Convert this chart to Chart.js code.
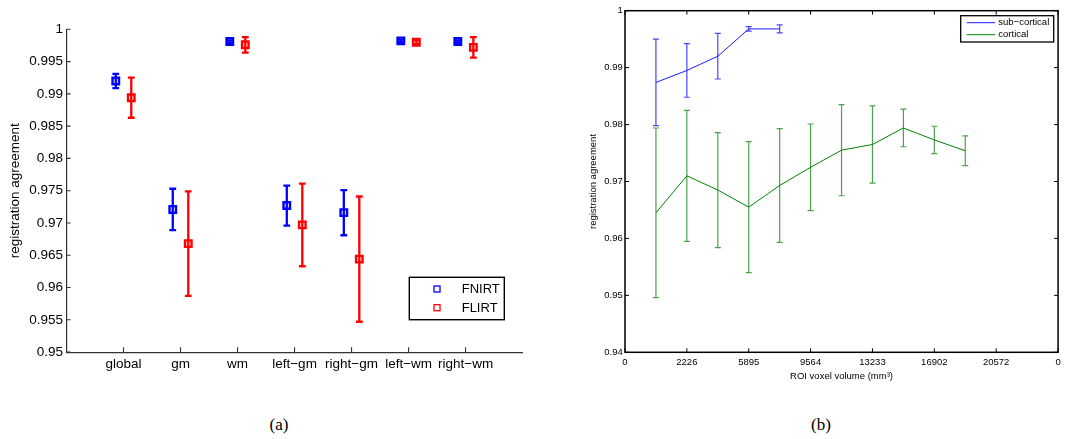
<!DOCTYPE html>
<html><head><meta charset="utf-8">
<script src="https://cdn.jsdelivr.net/npm/chart.js@4.4.0/dist/chart.umd.min.js"></script>
<style>
html,body{margin:0;padding:0;background:#fff;width:1065px;height:439px;overflow:hidden;}
#ca{position:absolute;left:0;top:0;}
#cb{position:absolute;left:540px;top:0;}
.cap{position:absolute;top:414px;font-family:'Liberation Serif','Times New Roman',serif;font-size:17px;width:60px;text-align:center;line-height:22px;color:#000;}
</style></head><body>
<canvas id="ca" width="540" height="400"></canvas>
<canvas id="cb" width="525" height="400"></canvas>
<div class="cap" style="left:249px">(a)</div>
<div class="cap" style="left:791px">(b)</div>
<script>
// ---------- Panel (a) data ----------
const categories = ['global', 'gm', 'wm', 'left\u2212gm', 'right\u2212gm', 'left\u2212wm', 'right\u2212wm'];
const fnirtMean = [0.9920, 0.9721, 0.9981, 0.9727, 0.9716, 0.9982, 0.9981];
const fnirtErr  = [0.0011, 0.0032, 0.0002, 0.0031, 0.0035, 0.0002, 0.0002];
const flirtMean = [0.9894, 0.9668, 0.9976, 0.9697, 0.9644, 0.9980, 0.9972];
const flirtErr  = [0.0031, 0.0081, 0.0012, 0.0064, 0.0097, 0.0003, 0.0016];

// ---------- Panel (b) data ----------
const volumeTickLabels = ['0', '2226', '5895', '9564', '13233', '16902', '20572', '0'];
const subBins  = [0.5, 1, 1.5, 2, 2.5];
const subMean  = [0.9874, 0.9895, 0.9920, 0.9968, 0.9968];
const subErr   = [0.0076, 0.0047, 0.0040, 0.0004, 0.0007];
const cortBins = [0.5, 1, 1.5, 2, 2.5, 3, 3.5, 4, 4.5, 5, 5.5];
const cortMean = [0.9645, 0.9710, 0.9685, 0.9655, 0.9693, 0.9725, 0.9755, 0.9765, 0.9794, 0.9773, 0.9754];
const cortErr  = [0.0149, 0.0115, 0.0101, 0.0115, 0.0100, 0.0076, 0.0080, 0.0068, 0.0033, 0.0024, 0.0026];

Chart.defaults.font.family = "'Liberation Sans', Arial, Helvetica, sans-serif";
Chart.defaults.color = '#000';
Chart.defaults.animation = false;

const errorBars = {
  id: 'errorBars',
  beforeDatasetsDraw(chart) {
    const {ctx, scales: {x, y}} = chart;
    chart.data.datasets.forEach(ds => {
      if (!ds.errors) return;
      ctx.save();
      ctx.strokeStyle = ds.errorColor || ds.borderColor;
      ctx.lineWidth = ds.errorWidth || 1;
      const c = ds.capHalf || 3;
      ds.data.forEach((p, i) => {
        const e = ds.errors[i];
        const px = x.getPixelForValue(p.x);
        const yt = y.getPixelForValue(p.y + e), yb = y.getPixelForValue(p.y - e);
        ctx.beginPath();
        ctx.moveTo(px, yt); ctx.lineTo(px, yb);
        ctx.moveTo(px - c, yt); ctx.lineTo(px + c, yt);
        ctx.moveTo(px - c, yb); ctx.lineTo(px + c, yb);
        ctx.stroke();
      });
      ctx.restore();
    });
  }
};

// ---------- Panel (a) ----------
const offA = 0.136;
const mk = (means, sign) => means.map((v, i) => ({x: i + 1 + sign * offA, y: v}));

const ticksA = {
  id: 'ticksA',
  afterDraw(chart) {
    const {ctx, chartArea: a, scales: {x, y}} = chart;
    ctx.save();
    ctx.strokeStyle = '#333'; ctx.lineWidth = 1.1;
    ctx.beginPath();
    y.ticks.forEach(t => { const py = y.getPixelForValue(t.value); ctx.moveTo(a.left, py); ctx.lineTo(a.left + 4.1, py); });
    categories.forEach((c, i) => { const px = x.getPixelForValue(i + 1); ctx.moveTo(px, a.bottom); ctx.lineTo(px, a.bottom - 4.8); });
    ctx.stroke();
    // legend
    ctx.lineWidth = 1.4; ctx.strokeStyle = '#000';
    ctx.strokeRect(409.3, 277.3, 95, 42.4);
    ctx.font = "13px 'Liberation Sans', Arial, sans-serif";
    ctx.textBaseline = 'middle'; ctx.textAlign = 'left'; ctx.fillStyle = '#000';
    const rows = [289, 307.7];
    chart.data.datasets.forEach((ds, i) => {
      ctx.strokeStyle = ds.borderColor; ctx.lineWidth = 1.3;
      ctx.strokeRect(437 - 3, rows[i] - 3, 6, 6);
      ctx.fillText(ds.label, 461.7, rows[i] + 0.5);
    });
    ctx.restore();
  }
};

new Chart(document.getElementById('ca'), {
  type: 'scatter',
  data: {
    datasets: [
      {label: 'FNIRT', data: mk(fnirtMean, -1), errors: fnirtErr, borderColor: '#0000ff', backgroundColor: 'rgba(0,0,0,0)',
       pointStyle: 'rect', pointRadius: 4.6, pointBorderWidth: 2.4, errorWidth: 2.3, capHalf: 3.4},
      {label: 'FLIRT', data: mk(flirtMean, 1), errors: flirtErr, borderColor: '#ff0000', backgroundColor: 'rgba(0,0,0,0)',
       pointStyle: 'rect', pointRadius: 4.6, pointBorderWidth: 2.4, errorWidth: 2.3, capHalf: 3.4}
    ]
  },
  options: {
    responsive: false,
    layout: {padding: {top: 29.3, right: 17.4, bottom: 0, left: 0}},
    plugins: {legend: {display: false}, tooltip: {enabled: false}},
    scales: {
      x: {
        type: 'linear', min: 0, max: 8,
        afterFit: s => { s.height = 47.9; },
        afterBuildTicks: s => { s.ticks = categories.map((c, i) => ({value: i + 1})); },
        ticks: {padding: 4, font: {size: 13.5}, maxRotation: 0, autoSkip: false,
                callback: v => categories[v - 1] || ''},
        grid: {display: false, drawTicks: false},
        border: {display: true, color: '#333', width: 1.2}
      },
      y: {
        type: 'linear', min: 0.95, max: 1,
        afterFit: s => { s.width = 66.5; },
        ticks: {stepSize: 0.005, padding: 3.5, font: {size: 13.5},
                callback: v => String(Number(v.toFixed(3)))},
        grid: {display: false, drawTicks: false},
        border: {display: true, color: '#333', width: 1.2},
        title: {display: true, text: 'registration agreement', font: {size: 13.5}, padding: {top: 7.4, bottom: 0}}
      }
    }
  },
  plugins: [errorBars, ticksA]
});

// ---------- Panel (b) ----------
const pts = (xs, ys) => xs.map((v, i) => ({x: v, y: ys[i]}));

const boxB = {
  id: 'boxB',
  afterDraw(chart) {
    const {ctx, chartArea: a, scales: {x, y}} = chart;
    ctx.save();
    ctx.strokeStyle = '#000'; ctx.lineWidth = 1.5;
    ctx.strokeRect(a.left, a.top, a.right - a.left, a.bottom - a.top);
    ctx.lineWidth = 1;
    ctx.beginPath();
    y.ticks.forEach(t => { const py = y.getPixelForValue(t.value);
      ctx.moveTo(a.left, py); ctx.lineTo(a.left + 4, py);
      ctx.moveTo(a.right, py); ctx.lineTo(a.right - 4, py); });
    x.ticks.forEach(t => { const px = x.getPixelForValue(t.value);
      ctx.moveTo(px, a.bottom); ctx.lineTo(px, a.bottom - 4);
      ctx.moveTo(px, a.top); ctx.lineTo(px, a.top + 4); });
    ctx.stroke();
    // legend
    ctx.fillStyle = '#fff';
    ctx.fillRect(420.7, 15.7, 93, 26.3);
    ctx.lineWidth = 1.3; ctx.strokeStyle = '#000';
    ctx.strokeRect(420.7, 15.7, 93, 26.3);
    ctx.font = "9.5px 'Liberation Sans', Arial, sans-serif";
    ctx.textBaseline = 'middle'; ctx.textAlign = 'left'; ctx.fillStyle = '#000';
    const rows = [22.7, 34.7];
    chart.data.datasets.forEach((ds, i) => {
      ctx.strokeStyle = ds.borderColor; ctx.lineWidth = 1;
      ctx.beginPath(); ctx.moveTo(426.7, rows[i]); ctx.lineTo(455, rows[i]); ctx.stroke();
      ctx.fillText(ds.label, 458.3, rows[i]);
    });
    ctx.restore();
  }
};

new Chart(document.getElementById('cb'), {
  type: 'scatter',
  data: {
    datasets: [
      {label: 'sub\u2212cortical', data: pts(subBins, subMean), errors: subErr, showLine: true,
       borderColor: '#1a1aff', borderWidth: 1, pointRadius: 0, errorColor: 'rgba(40,40,255,0.85)', errorWidth: 1.2, capHalf: 3},
      {label: 'cortical', data: pts(cortBins, cortMean), errors: cortErr, showLine: true,
       borderColor: '#008000', borderWidth: 1, pointRadius: 0, errorColor: 'rgba(30,140,30,0.8)', errorWidth: 1.2, capHalf: 3}
    ]
  },
  options: {
    responsive: false,
    layout: {padding: {top: 10.7, right: 6, bottom: 0, left: 0}},
    plugins: {legend: {display: false}, tooltip: {enabled: false}},
    scales: {
      x: {
        type: 'linear', min: 0, max: 7,
        afterFit: s => { s.height = 47.7; },
        ticks: {stepSize: 1, padding: 4.3, font: {size: 9.5}, maxRotation: 0, autoSkip: false,
                callback: v => volumeTickLabels[v]},
        grid: {display: false, drawTicks: false},
        border: {display: false},
        title: {display: true, text: 'ROI voxel volume (mm\u00b3)', font: {size: 9.5}, padding: {top: 0, bottom: 18.3}}
      },
      y: {
        type: 'linear', min: 0.94, max: 1,
        afterFit: s => { s.width = 85; },
        ticks: {stepSize: 0.01, padding: 2.3, font: {size: 9.5},
                callback: v => String(Number(v.toFixed(2)))},
        grid: {display: false, drawTicks: false},
        border: {display: false},
        title: {display: true, text: 'registration agreement', font: {size: 9.5}, padding: {top: 47.6, bottom: 0}}
      }
    }
  },
  plugins: [errorBars, boxB]
});
</script>
</body></html>
